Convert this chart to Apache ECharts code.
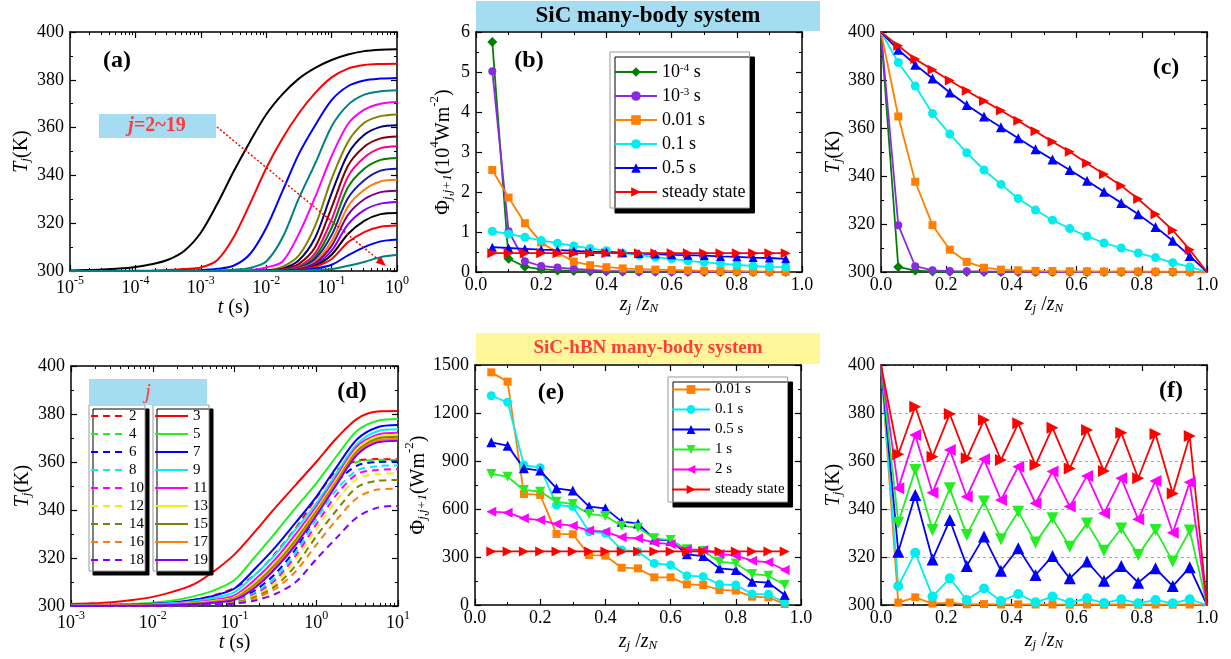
<!DOCTYPE html>
<html>
<head>
<meta charset="utf-8">
<script src="https://cdn.jsdelivr.net/npm/echarts@6.0.0/dist/echarts.min.js"></script>
<style>
html,body{margin:0;padding:0;background:#fff;}
#chart{width:1231px;height:659px;}
</style>
</head>
<body>
<div id="chart"></div>
<script>
// ---------- data ----------
// (a) SiC: T_j(t), j = 2..19, quarter-decade time steps
const tA = [1e-5, 1.78e-5, 3.16e-5, 5.62e-5, 1e-4, 1.78e-4, 3.16e-4, 5.62e-4, 1e-3, 1.78e-3, 3.16e-3,
  5.62e-3, 1e-2, 1.78e-2, 3.16e-2, 5.62e-2, 0.1, 0.178, 0.316, 0.562, 1];
const curvesA = [
  [300.2, 300.4, 300.6, 301, 301.7, 302.8, 304.7, 308.5, 316, 328, 341.5, 354, 365.5, 374, 380.5, 385, 388.3, 390.6, 392, 392.6, 392.8],
  [300, 300, 300, 300, 300.1, 300.2, 300.4, 300.8, 301.5, 304.5, 314, 328, 343, 355.5, 366, 374.5, 381, 384.7, 386.2, 386.6, 386.7],
  [300, 300, 300, 300, 300, 300, 300, 300.1, 300.3, 300.9, 302.2, 307, 318, 333.5, 349, 361, 371.5, 377.3, 379.7, 380.5, 380.8],
  [300, 300, 300, 300, 300, 300, 300, 300, 300, 300.2, 300.5, 301.3, 304, 314, 330.5, 345, 360.5, 369.5, 373.8, 375.2, 375.6],
  [300, 300, 300, 300, 300, 300, 300, 300, 300, 300, 300.1, 300.4, 301.5, 304, 315.5, 331, 348, 361.5, 367.5, 370, 370.7],
  [300, 300, 300, 300, 300, 300, 300, 300, 300, 300, 300, 300.1, 300.3, 301.8, 306.5, 319, 338.5, 354, 362, 364.8, 365.5],
  [300, 300, 300, 300, 300, 300, 300, 300, 300, 300, 300, 300, 300.2, 301, 304.5, 314, 332.5, 349, 357, 360.3, 361],
  [300, 300, 300, 300, 300, 300, 300, 300, 300, 300, 300, 300, 300.1, 300.7, 303, 310, 326.5, 344, 352, 355.5, 356.3],
  [300, 300, 300, 300, 300, 300, 300, 300, 300, 300, 300, 300, 300, 300.5, 302, 307.5, 321.5, 339.5, 347.5, 351.4, 352.2],
  [300, 300, 300, 300, 300, 300, 300, 300, 300, 300, 300, 300, 300, 300.4, 301.5, 306, 318, 335, 342.8, 346.5, 347.3],
  [300, 300, 300, 300, 300, 300, 300, 300, 300, 300, 300, 300, 300, 300.3, 301.2, 305, 315, 330.5, 338, 342, 342.8],
  [300, 300, 300, 300, 300, 300, 300, 300, 300, 300, 300, 300, 300, 300.2, 301, 304, 312.5, 327, 334, 337.5, 338.2],
  [300, 300, 300, 300, 300, 300, 300, 300, 300, 300, 300, 300, 300, 300.2, 300.8, 303.3, 310.5, 323.5, 330, 333, 333.6],
  [300, 300, 300, 300, 300, 300, 300, 300, 300, 300, 300, 300, 300, 300.1, 300.6, 302.7, 308.5, 319.5, 325.5, 328.2, 328.9],
  [300, 300, 300, 300, 300, 300, 300, 300, 300, 300, 300, 300, 300, 300.1, 300.5, 302.2, 306.8, 315.5, 321, 323.8, 324.3],
  [300, 300, 300, 300, 300, 300, 300, 300, 300, 300, 300, 300, 300, 300.1, 300.5, 301.8, 305, 312, 316.3, 318.5, 319],
  [300, 300, 300, 300, 300, 300, 300, 300, 300, 300, 300, 300, 300, 300, 300.3, 301, 302.6, 306.5, 310, 312.4, 313.2],
  [300, 300, 300, 300, 300, 300, 300, 300, 300, 300, 300, 300, 300, 300, 300.1, 300.4, 300.8, 302.2, 303.8, 305.8, 306.8]
];
const colorsA = ['#000000', '#ff0000', '#0000ff', '#008080', '#ff00ff', '#808000', '#000080', '#800000', '#ff0080',
  '#008000', '#1a1aa6', '#ff8000', '#800080', '#8000ff', '#000000', '#ff0000', '#0000ff', '#008080'];

// (b) SiC flux, 10^4 W m^-2
const zB = [0.05, 0.1, 0.15, 0.2, 0.25, 0.3, 0.35, 0.4, 0.45, 0.5, 0.55, 0.6, 0.65, 0.7, 0.75, 0.8, 0.85, 0.9, 0.95];
const phiB_1em4 = [5.75, 0.33, 0.13, 0.07, 0.04, 0.025, 0.015, 0.01, 0.008, 0.006, 0.005, 0.004, 0.003, 0.003, 0.002, 0.002, 0.002, 0.001, 0.001];
const phiB_1em3 = [5.02, 1.02, 0.27, 0.15, 0.11, 0.08, 0.05, 0.03, 0.02, 0.015, 0.01, 0.008, 0.006, 0.005, 0.004, 0.003, 0.003, 0.002, 0.002];
const phiB_001 = [2.55, 1.86, 1.22, 0.74, 0.48, 0.26, 0.17, 0.12, 0.09, 0.07, 0.06, 0.05, 0.04, 0.03, 0.025, 0.02, 0.015, 0.01, 0.005];
const phiB_01 = [1.02, 0.95, 0.87, 0.79, 0.72, 0.65, 0.59, 0.53, 0.47, 0.42, 0.37, 0.33, 0.28, 0.24, 0.21, 0.18, 0.15, 0.13, 0.12];
const phiB_05 = [0.62, 0.6, 0.58, 0.56, 0.55, 0.53, 0.51, 0.5, 0.48, 0.46, 0.45, 0.43, 0.42, 0.41, 0.39, 0.38, 0.36, 0.35, 0.33];
const phiB_ss = [0.47, 0.47, 0.47, 0.47, 0.47, 0.47, 0.47, 0.47, 0.47, 0.47, 0.47, 0.47, 0.47, 0.47, 0.47, 0.47, 0.47, 0.47, 0.47];

// (c) SiC temperature profile
const zC = [0, 0.053, 0.105, 0.158, 0.211, 0.263, 0.316, 0.368, 0.421, 0.474, 0.526, 0.579, 0.632, 0.684, 0.737, 0.789, 0.842, 0.895, 0.947, 1];
const tC_1em4 = [400, 302.1, 300.6, 300.2, 300.1, 300, 300, 300, 300, 300, 300, 300, 300, 300, 300, 300, 300, 300, 300, 300];
const tC_1em3 = [400, 319.5, 302.4, 300.7, 300.4, 300.3, 300.2, 300.1, 300.1, 300, 300, 300, 300, 300, 300, 300, 300, 300, 300, 300];
const tC_001 = [400, 364.8, 337.6, 319.5, 309.3, 304.2, 301.8, 301, 300.7, 300.5, 300.4, 300.3, 300.3, 300.2, 300.2, 300.2, 300.1, 300.1, 300.1, 300];
const tC_01 = [400, 387.3, 377.5, 366, 357.5, 349.7, 342.5, 336.5, 330.6, 325.8, 321.6, 318.1, 314.9, 312.1, 310, 307.9, 306, 303.9, 302.1, 300];
const tC_05 = [400, 392.6, 386.4, 380.6, 374.8, 369.6, 364.8, 360.3, 355.7, 351.1, 346.9, 342.5, 338, 333.4, 328.8, 324.1, 318.8, 313, 306.7, 300];
const tC_ss = [400, 394.3, 388.7, 384.3, 379.8, 375.5, 371.3, 367.3, 363, 358.6, 354.3, 350.1, 345.3, 340.7, 335.9, 330.4, 324.1, 317.4, 309.3, 300];

// (d) SiC-hBN: T_j(t), j = 2..19, quarter-decade time steps
const tD = [1e-3, 1.78e-3, 3.16e-3, 5.62e-3, 1e-2, 1.78e-2, 3.16e-2, 5.62e-2, 0.1, 0.178, 0.316, 0.562, 1, 1.78, 3.16, 5.62, 10];
const curvesD = {
  2: [300.1, 300.2, 300.3, 300.5, 300.8, 301.4, 302.4, 304.5, 307.5, 313, 322, 332.5, 345, 356.5, 360.5, 361.2, 361.1],
  3: [300.8, 301.1, 301.6, 302.5, 303.8, 306, 309, 314.5, 321.5, 331, 341, 350.5, 360, 370, 378, 381, 381.2],
  4: [300, 300, 300.1, 300.2, 300.3, 300.6, 301.1, 302.1, 303.8, 308, 315.5, 326, 341, 354.5, 360, 360.8, 360.8],
  5: [300.3, 300.4, 300.6, 300.9, 301.4, 302.3, 304, 306.5, 310.8, 320.5, 330.5, 341, 351.1, 362.5, 373, 377.2, 377.9],
  6: [300, 300, 300, 300, 300.1, 300.4, 300.8, 301.5, 302.8, 306.5, 313.5, 323.8, 338, 351.5, 358.5, 360, 360.2],
  7: [300.2, 300.3, 300.4, 300.6, 300.9, 301.5, 302.6, 304.3, 307.3, 315.5, 324.5, 334.8, 345.5, 358, 369.5, 374.5, 375.4],
  8: [300, 300, 300, 300, 300.1, 300.3, 300.6, 301.2, 302.3, 305.5, 312, 322.4, 336, 348.5, 356.5, 358.3, 358.6],
  9: [300.1, 300.2, 300.3, 300.5, 300.7, 301.2, 302, 303.4, 305.8, 313, 321.5, 332, 342.8, 355.5, 367.5, 372.8, 373.6],
  10: [300, 300, 300, 300, 300.1, 300.2, 300.5, 301, 302, 305, 310.8, 321, 334, 346.5, 355, 356.7, 357],
  11: [300.1, 300.1, 300.2, 300.3, 300.5, 300.9, 301.5, 302.6, 304.4, 311, 319.5, 330, 341.4, 354, 366.5, 371.4, 372.2],
  12: [300, 300, 300, 300, 300.1, 300.2, 300.4, 300.8, 301.7, 304.5, 309.5, 319.5, 332, 344, 353, 355, 355.3],
  13: [300.1, 300.1, 300.2, 300.3, 300.4, 300.7, 301.2, 302.1, 303.7, 309.8, 318, 328.6, 340.3, 353, 365.5, 370.6, 371.4],
  14: [300, 300, 300, 300, 300, 300.1, 300.3, 300.7, 301.5, 303.8, 308.3, 317, 329, 340, 349.5, 352.2, 352.5],
  15: [300, 300.1, 300.1, 300.2, 300.3, 300.6, 301, 301.8, 303.3, 309, 317.3, 327.5, 339.3, 352, 364.5, 369.8, 370.5],
  16: [300, 300, 300, 300, 300, 300.1, 300.2, 300.6, 301.2, 303.2, 307.2, 314.5, 325.5, 336, 345, 348.5, 348.9],
  17: [300, 300.1, 300.1, 300.2, 300.3, 300.5, 300.9, 301.6, 303, 308.3, 316.5, 326.5, 338.6, 351.5, 363.8, 369, 369.7],
  18: [300, 300, 300, 300, 300, 300.1, 300.2, 300.5, 301, 302.3, 305, 310, 319.5, 328.5, 337, 341, 341.7],
  19: [300, 300, 300.1, 300.1, 300.2, 300.4, 300.8, 301.4, 302.6, 307.6, 315.6, 325.5, 337.6, 350.7, 363, 368.2, 368.9]
};
const colorsD = ['#ff0000', '#22ee22', '#0000ff', '#00f0f0', '#ff00ff', '#f2f200', '#808000', '#ff8000', '#8000ff'];

// (e) SiC-hBN flux, W m^-2
const zE = zB;
const phiE_001 = [1454, 1396, 694, 688, 444, 442, 312, 308, 233, 229, 173, 173, 129, 125, 94, 90, 52, 48, 6];
const phiE_01 = [1308, 1267, 875, 858, 625, 615, 458, 448, 344, 333, 260, 250, 183, 177, 129, 125, 69, 67, 15];
const phiE_05 = [1017, 996, 854, 840, 729, 715, 615, 604, 521, 510, 410, 402, 317, 306, 229, 219, 146, 140, 62];
const phiE_1 = [819, 802, 719, 708, 646, 631, 569, 556, 494, 483, 417, 406, 348, 337, 271, 260, 194, 183, 125];
const phiE_2 = [583, 577, 542, 531, 506, 496, 465, 458, 423, 417, 390, 381, 348, 344, 319, 308, 277, 267, 219];
const phiE_ss = [335, 335, 335, 335, 335, 335, 335, 335, 335, 335, 335, 335, 335, 335, 335, 335, 335, 335, 335];

// (f) SiC-hBN temperature profile
const zF = zC;
const tF_001 = [400, 301, 303.2, 300.6, 301, 300.3, 300.4, 300.2, 300.3, 300.2, 300.2, 300.1, 300.2, 300.1, 300.2, 300.1, 300.2, 300.1, 300.2, 300];
const tF_01 = [400, 307.9, 321.8, 303.5, 311.1, 302.1, 306.9, 301.7, 304.6, 301.1, 303.5, 301, 302.8, 300.8, 302.4, 300.7, 302.1, 300.7, 302.4, 300];
const tF_05 = [400, 322.2, 345.8, 319, 335.4, 316.3, 328.5, 314.3, 323.6, 312.5, 320.4, 311.1, 318.1, 310.1, 316.3, 309.3, 315.3, 307.9, 315.7, 300];
const tF_1 = [400, 334.3, 356.3, 331.3, 348.6, 329.2, 343.1, 327.4, 338.9, 326, 336.1, 324.3, 334, 322.6, 331.9, 320.8, 331.3, 318.1, 331, 300];
const tF_2 = [400, 348.6, 370.8, 346.8, 364.6, 345.1, 360.7, 343.8, 357.6, 342.4, 355.6, 341, 353.8, 338.2, 352.8, 335.7, 351.7, 330.1, 351.1, 300];
const tF_ss = [400, 362.8, 382.6, 361.8, 379.6, 361.1, 377.1, 360.4, 375.7, 358.3, 373.9, 356.9, 372.9, 355.8, 371.8, 352.8, 371.3, 346.5, 370.4, 300];

// ---------- styles ----------
const FONT = 'Liberation Serif';
const richName = {
  b: {fontSize: 20, fontFamily: FONT, color: '#000', lineHeight: 26, verticalAlign: 'bottom'},
  i: {fontSize: 20, fontFamily: FONT, fontStyle: 'italic', color: '#000', lineHeight: 26, verticalAlign: 'bottom'},
  sub: {fontSize: 13, fontFamily: FONT, color: '#000', lineHeight: 13, verticalAlign: 'bottom'},
  subi: {fontSize: 13, fontFamily: FONT, fontStyle: 'italic', color: '#000', lineHeight: 13, verticalAlign: 'bottom'},
  sup: {fontSize: 13, fontFamily: FONT, color: '#000', lineHeight: 13, verticalAlign: 'top'}
};
const richTick = {
  t: {fontSize: 18, fontFamily: FONT, color: '#000', lineHeight: 22, verticalAlign: 'bottom'},
  sup: {fontSize: 12, fontFamily: FONT, color: '#000', lineHeight: 12, verticalAlign: 'top'}
};
const logFmt = v => '{t|10}{sup|' + Math.round(Math.log10(v)) + '}';
const fix1 = v => v.toFixed(1);
const plain = v => String(v);

const grids = [
  {left: 70, top: 32, width: 327, height: 239},
  {left: 476, top: 32, width: 326, height: 240},
  {left: 881, top: 32, width: 326, height: 240},
  {left: 71, top: 366, width: 327, height: 240},
  {left: 475, top: 365, width: 326, height: 240},
  {left: 881, top: 365, width: 326, height: 240}
];

const xAxes = [], yAxes = [];
function addAxis(list, dim, gi, cfg) {
  const common = {
    gridIndex: gi, type: cfg.type || 'value', min: cfg.min, max: cfg.max,
    axisLine: {show: true, onZero: false, lineStyle: {color: '#000', width: 1.5}},
    axisTick: {show: true, inside: true, length: 6, lineStyle: {color: '#000', width: 1.2}},
    minorTick: {show: true, splitNumber: cfg.minor || 2, length: 3, lineStyle: {color: '#000', width: 1}},
    splitLine: {show: false}
  };
  if (cfg.interval) common.interval = cfg.interval;
  if (cfg.type === 'log') common.logBase = 10;
  list.push(Object.assign({}, common, {
    position: dim === 'x' ? 'bottom' : 'left',
    name: cfg.name, nameLocation: 'middle', nameGap: cfg.nameGap,
    nameRotate: dim === 'y' ? 90 : 0,
    nameTextStyle: {rich: richName, fontFamily: FONT, color: '#000'},
    axisLabel: {color: '#000', fontFamily: FONT, fontSize: 18, margin: dim === 'x' ? 4 : 6,
      formatter: cfg.fmt || plain, rich: richTick, showMinLabel: true, showMaxLabel: true},
    splitLine: cfg.split ? {show: true, lineStyle: {color: '#aaa', type: [3, 3], width: 1}} : {show: false}
  }));
  list.push(Object.assign({}, common, {position: dim === 'x' ? 'top' : 'right', axisLabel: {show: false}}));
}

const nameT = '{i|T}{subi|j}{b|(K)}';
const nameTs = '{i|t}{b| (s)}';
const nameZ = '{i|z}{subi|j}{b| /}{i|z}{subi|N}';

addAxis(xAxes, 'x', 0, {type: 'log', min: 1e-5, max: 1, fmt: logFmt, name: nameTs, nameGap: 7, minor: 9});
addAxis(yAxes, 'y', 0, {min: 300, max: 400, interval: 20, name: nameT, nameGap: 38});
addAxis(xAxes, 'x', 1, {min: 0, max: 1, interval: 0.2, fmt: fix1, name: nameZ, nameGap: 13});
addAxis(yAxes, 'y', 1, {min: 0, max: 6, interval: 1, name: '{b|Φ}{subi|j,j+1}{b|(10}{sup|4}{b|Wm}{sup|-2}{b|)}', nameGap: 22});
addAxis(xAxes, 'x', 2, {min: 0, max: 1, interval: 0.2, fmt: fix1, name: nameZ, nameGap: 13});
addAxis(yAxes, 'y', 2, {min: 300, max: 400, interval: 20, name: nameT, nameGap: 30});
addAxis(xAxes, 'x', 3, {type: 'log', min: 1e-3, max: 10, fmt: logFmt, name: nameTs, nameGap: 21, minor: 9});
addAxis(yAxes, 'y', 3, {min: 300, max: 400, interval: 20, name: nameT, nameGap: 38});
addAxis(xAxes, 'x', 4, {min: 0, max: 1, interval: 0.2, fmt: fix1, name: nameZ, nameGap: 21});
addAxis(yAxes, 'y', 4, {min: 0, max: 1500, interval: 300, name: '{b|Φ}{subi|j,j+1}{b|(Wm}{sup|-2}{b|)}', nameGap: 26});
addAxis(xAxes, 'x', 5, {min: 0, max: 1, interval: 0.2, fmt: fix1, name: nameZ, nameGap: 20});
addAxis(yAxes, 'y', 5, {min: 300, max: 400, interval: 20, name: nameT, nameGap: 34, split: true});

// ---------- series ----------
const series = [];
function pairs(xs, ys) { return xs.map((x, i) => [x, ys[i]]); }
function curve(name, gi, xs, ys, color, dashed) {
  series.push({
    name: name, type: 'line', xAxisIndex: gi * 2, yAxisIndex: gi * 2,
    data: pairs(xs, ys), smooth: 0.3, symbol: 'none', showSymbol: false,
    lineStyle: {color: color, width: 2, type: dashed ? [7, 5] : 'solid'},
    itemStyle: {color: color}
  });
}
function marked(name, gi, xs, ys, color, symbol, rot, size, hideEnds) {
  const n = xs.length;
  series.push({
    name: name, type: 'line', xAxisIndex: gi * 2, yAxisIndex: gi * 2,
    data: pairs(xs, ys), symbol: symbol, symbolRotate: rot || 0,
    symbolSize: hideEnds ? (v, p) => (p.dataIndex === 0 || p.dataIndex === n - 1 ? 0 : size) : size,
    showSymbol: true,
    lineStyle: {color: color, width: 1.8},
    itemStyle: {color: color}
  });
}

curvesA.forEach((ys, k) => curve('a' + (k + 2), 0, tA, ys, colorsA[k]));

marked('10^-4 s', 1, zB, phiB_1em4, '#008000', 'diamond', 0, 10);
marked('10^-3 s', 1, zB, phiB_1em3, '#8a2be2', 'circle', 0, 8);
marked('0.01 s', 1, zB, phiB_001, '#ff8000', 'rect', 0, 8);
marked('0.1 s', 1, zB, phiB_01, '#00eeee', 'circle', 0, 9);
marked('0.5 s', 1, zB, phiB_05, '#0000ff', 'triangle', 0, 9);
marked('steady state', 1, zB, phiB_ss, '#ff0000', 'triangle', -90, 10);

marked('c 1e-4', 2, zC, tC_1em4, '#008000', 'diamond', 0, 10, true);
marked('c 1e-3', 2, zC, tC_1em3, '#8a2be2', 'circle', 0, 8, true);
marked('c 0.01', 2, zC, tC_001, '#ff8000', 'rect', 0, 8, true);
marked('c 0.1', 2, zC, tC_01, '#00eeee', 'circle', 0, 9, true);
marked('c 0.5', 2, zC, tC_05, '#0000ff', 'triangle', 0, 10, true);
marked('c ss', 2, zC, tC_ss, '#ff0000', 'triangle', -90, 10, true);

const evenD = [], oddD = [];
for (let j = 2; j <= 19; j++) {
  const name = 'j' + j;
  curve(name, 3, tD, curvesD[j], colorsD[Math.floor((j - 2) / 2)], j % 2 === 0);
  (j % 2 === 0 ? evenD : oddD).push(name);
}

marked('0.01 s', 4, zE, phiE_001, '#ff8000', 'rect', 0, 8);
marked('0.1 s', 4, zE, phiE_01, '#00eeee', 'circle', 0, 9);
marked('0.5 s', 4, zE, phiE_05, '#0000ff', 'triangle', 0, 10);
marked('1 s', 4, zE, phiE_1, '#22ee22', 'triangle', 180, 10);
marked('2 s', 4, zE, phiE_2, '#ff00ff', 'triangle', 90, 10);
marked('steady state', 4, zE, phiE_ss, '#ff0000', 'triangle', -90, 10);

marked('f 0.01', 5, zF, tF_001, '#ff8000', 'rect', 0, 8, true);
marked('f 0.1', 5, zF, tF_01, '#00eeee', 'circle', 0, 10, true);
marked('f 0.5', 5, zF, tF_05, '#0000ff', 'triangle', 0, 12, true);
marked('f 1', 5, zF, tF_1, '#22ee22', 'triangle', 180, 12, true);
marked('f 2', 5, zF, tF_2, '#ff00ff', 'triangle', 90, 12, true);
marked('f ss', 5, zF, tF_ss, '#ff0000', 'triangle', -90, 12, true);

// ---------- legends ----------
const supName = {'10^-4 s': '10{sup|-4} s', '10^-3 s': '10{sup|-3} s'};
const legendBase = {
  orient: 'vertical', selectedMode: false, backgroundColor: '#fff',
  borderColor: '#999', borderWidth: 1,
  shadowColor: '#000', shadowOffsetX: 5, shadowOffsetY: 5, shadowBlur: 0
};
const legendD = {
  itemWidth: 33, itemHeight: 10, itemGap: 2,
  padding: [3, 1, 3, 1], shadowOffsetX: 4, shadowOffsetY: 4,
  itemStyle: {opacity: 0, borderWidth: 0},
  formatter: n => n.slice(1),
  textStyle: {fontFamily: FONT, fontSize: 15, color: '#000', lineHeight: 16}
};
const legends = [
  Object.assign({}, legendBase, {
    data: ['10^-4 s', '10^-3 s', '0.01 s', '0.1 s', '0.5 s', 'steady state'],
    left: 610, top: 52, itemWidth: 42, itemHeight: 12, itemGap: 6, padding: [11, 4, 7, 4],
    formatter: n => supName[n] || n,
    textStyle: {fontFamily: FONT, fontSize: 18, color: '#000',
      rich: {sup: {fontSize: 11, fontFamily: FONT, color: '#000', verticalAlign: 'top', lineHeight: 11}}}
  }),
  Object.assign({}, legendBase, {
    data: ['0.01 s', '0.1 s', '0.5 s', '1 s', '2 s', 'steady state'],
    left: 668, top: 377, itemWidth: 38, itemHeight: 11, itemGap: 5, padding: [5, 3, 5, 3],
    textStyle: {fontFamily: FONT, fontSize: 15, color: '#000'}
  }),
  Object.assign({}, legendBase, legendD, {data: evenD, left: 89, top: 405}),
  Object.assign({}, legendBase, legendD, {data: oddD, left: 153, top: 405})
];

// ---------- annotations ----------
function label(txt, x, y) {
  return {type: 'text', x: x, y: y, z: 20,
    style: {text: txt, font: 'bold 24px "Liberation Serif"', fill: '#000', align: 'center', verticalAlign: 'middle'}};
}
const graphic = [
  {type: 'rect', shape: {x: 476, y: 1, width: 344, height: 30}, style: {fill: '#a6dcf2'}, z: 5},
  {type: 'text', x: 648, y: 16, z: 6, style: {text: 'SiC many-body system', font: 'bold 23px "Liberation Serif"',
    fill: '#000', align: 'center', verticalAlign: 'middle'}},
  {type: 'rect', shape: {x: 476, y: 333, width: 344, height: 31}, style: {fill: '#fff799'}, z: 5},
  {type: 'text', x: 648, y: 348, z: 6, style: {text: 'SiC-hBN many-body system', font: 'bold 19px "Liberation Serif"',
    fill: '#ff3b3b', align: 'center', verticalAlign: 'middle'}},
  {type: 'rect', shape: {x: 99, y: 114, width: 117, height: 24}, style: {fill: '#a6dcf2'}, z: 5},
  {type: 'text', x: 157, y: 126, z: 6, style: {text: '{a|j}{b|=2~19}', align: 'center', verticalAlign: 'middle',
    rich: {a: {font: 'italic bold 20px "Liberation Serif"', fill: '#ff3b3b'},
           b: {font: 'bold 20px "Liberation Serif"', fill: '#ff3b3b'}}}},
  {type: 'line', z: 6, shape: {x1: 217, y1: 127, x2: 380, y2: 261},
    style: {stroke: '#ff0000', lineWidth: 1.5, lineDash: [2, 2]}},
  {type: 'polygon', z: 6, shape: {points: [[386, 266], [375.8, 262.8], [380.8, 256.6]]}, style: {fill: '#ff0000'}},
  {type: 'rect', shape: {x: 89, y: 379, width: 118, height: 26}, style: {fill: '#a6dcf2'}, z: 5},
  {type: 'text', x: 148, y: 392, z: 6, style: {text: 'j', font: 'italic 21px "Liberation Serif"', fill: '#ff3b3b',
    align: 'center', verticalAlign: 'middle'}},
  label('(a)', 117, 61), label('(b)', 529, 61), label('(c)', 1166, 68),
  label('(d)', 352, 392), label('(e)', 551, 393), label('(f)', 1171, 391)
];

const chart = echarts.init(document.getElementById('chart'));
chart.setOption({
  animation: false,
  backgroundColor: '#fff',
  textStyle: {fontFamily: FONT},
  grid: grids,
  xAxis: xAxes,
  yAxis: yAxes,
  legend: legends,
  series: series,
  graphic: graphic
});
</script>
</body>
</html>
